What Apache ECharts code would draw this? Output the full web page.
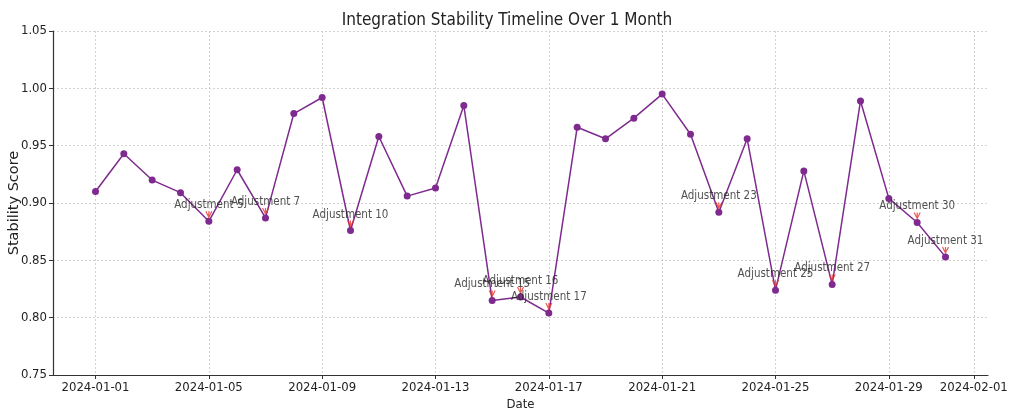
<!DOCTYPE html>
<html>
<head>
<meta charset="utf-8">
<title>Integration Stability Timeline</title>
<script src="https://cdn.jsdelivr.net/npm/echarts@6/dist/echarts.min.js"></script>
<style>
  html, body { margin: 0; padding: 0; background: #fff; }
  #main { width: 1014px; height: 411px; }
</style>
</head>
<body>
<div id="main"></div>
<script>
// 数据
var dates = ['2024-01-01','2024-01-02','2024-01-03','2024-01-04','2024-01-05','2024-01-06','2024-01-07',
    '2024-01-08','2024-01-09','2024-01-10','2024-01-11','2024-01-12','2024-01-13','2024-01-14',
    '2024-01-15','2024-01-16','2024-01-17','2024-01-18','2024-01-19','2024-01-20','2024-01-21',
    '2024-01-22','2024-01-23','2024-01-24','2024-01-25','2024-01-26','2024-01-27','2024-01-28',
    '2024-01-29','2024-01-30','2024-01-31'];
var scores = [0.910, 0.943, 0.920, 0.909, 0.884, 0.929, 0.887,
    0.978, 0.992, 0.876, 0.958, 0.906, 0.913, 0.985,
    0.815, 0.818, 0.804, 0.966, 0.956, 0.974, 0.995,
    0.960, 0.892, 0.956, 0.824, 0.928, 0.829, 0.989,
    0.904, 0.883, 0.853];
// 调整日 (几号)
var adjustmentDays = [5, 7, 10, 15, 16, 17, 23, 25, 27, 30, 31];
var tickDates = ['2024-01-01','2024-01-05','2024-01-09','2024-01-13','2024-01-17',
    '2024-01-21','2024-01-25','2024-01-29','2024-02-01'];

var narrow = "'DejaVu Sans Condensed', 'DejaVu Sans', sans-serif";

function toTime(s) {
    var p = s.split('-');
    return new Date(+p[0], +p[1] - 1, +p[2]).getTime();
}
function pad(n) { return n < 10 ? '0' + n : '' + n; }
function fmtDate(v) {
    var d = new Date(v);
    return d.getFullYear() + '-' + pad(d.getMonth() + 1) + '-' + pad(d.getDate());
}

var lineData = [];
for (var i = 0; i < dates.length; i++) {
    lineData.push([toTime(dates[i]), scores[i]]);
}
var adjData = [];
for (var j = 0; j < adjustmentDays.length; j++) {
    var idx = adjustmentDays[j] - 1;
    adjData.push({ value: [toTime(dates[idx]), scores[idx]], name: 'Adjustment ' + adjustmentDays[j] });
}
var tickValues = tickDates.map(toTime);

var dayMs = 24 * 3600 * 1000;
var xMin = toTime(dates[0]) - 1.5 * dayMs;
var xMax = toTime(dates[dates.length - 1]) + 1.5 * dayMs;

var myChart = echarts.init(document.getElementById('main'));

var option = {
    animation: false,
    backgroundColor: '#fff',
    title: {
        text: 'Integration Stability Timeline Over 1 Month',
        left: 'center',
        top: 7,
        textStyle: { fontFamily: narrow, fontSize: 17, fontWeight: 'normal', color: '#222' }
    },
    grid: { left: 53, right: 26, top: 31, bottom: 36, containLabel: false, outerBoundsMode: 'none' },
    xAxis: {
        // 用数值轴放时间戳, 刻度自定义
        type: 'value',
        min: xMin,
        max: xMax,
        name: 'Date',
        nameLocation: 'middle',
        nameGap: 23,
        nameMoveOverlap: false,
        nameTextStyle: { fontFamily: narrow, fontSize: 13, color: '#222' },
        axisLine: { show: true, lineStyle: { color: '#333', width: 1.2 } },
        axisTick: { show: true, inside: false, length: 4, customValues: tickValues, lineStyle: { color: '#333' } },
        axisLabel: {
            customValues: tickValues,
            margin: 6,
            fontFamily: narrow,
            fontSize: 13,
            color: '#222',
            formatter: function (v) { return fmtDate(v); }
        },
        splitLine: { show: true, lineStyle: { color: '#c8c8c8', type: [2, 2], width: 0.8 } }
    },
    yAxis: {
        type: 'value',
        min: 0.75,
        max: 1.05,
        interval: 0.05,
        name: 'Stability Score',
        nameLocation: 'middle',
        nameRotate: 90,
        nameGap: 31,
        nameMoveOverlap: false,
        nameTextStyle: { fontFamily: "'DejaVu Sans', sans-serif", fontSize: 14.5, color: '#222' },
        axisLine: { show: true, lineStyle: { color: '#333', width: 1.2 } },
        axisTick: { show: true, inside: false, length: 4, lineStyle: { color: '#333' } },
        axisLabel: {
            margin: 6,
            fontFamily: narrow,
            fontSize: 13,
            color: '#222',
            formatter: function (v) { return v.toFixed(2); }
        },
        splitLine: { show: true, lineStyle: { color: '#c8c8c8', type: [2, 2], width: 0.8 } }
    },
    series: [{
        name: 'Stability',
        type: 'line',
        data: lineData,
        symbol: 'circle',
        symbolSize: 7,
        lineStyle: { color: '#7e2a8e', width: 1.5 },
        itemStyle: { color: '#7e2a8e' },
        z: 2
    }, {
        // 红色小箭头
        name: 'arrows',
        type: 'scatter',
        data: adjData,
        symbol: 'path://M0,0 L5,8 L10,0 M5,0 L5,8',
        symbolSize: [6, 6],
        symbolOffset: [0, -7],
        itemStyle: { color: 'none', borderColor: '#e8322b', borderWidth: 1.2 },
        z: 3
    }, {
        // 标注文字
        name: 'labels',
        type: 'scatter',
        data: adjData,
        symbolSize: 1,
        itemStyle: { color: 'transparent' },
        label: {
            show: true,
            position: 'inside',
            offset: [0, -16],
            formatter: function (p) { return p.name; },
            fontFamily: narrow,
            fontSize: 11.5,
            color: '#262626'
        },
        z: 4
    }]
};

myChart.setOption(option);
</script>
</body>
</html>
